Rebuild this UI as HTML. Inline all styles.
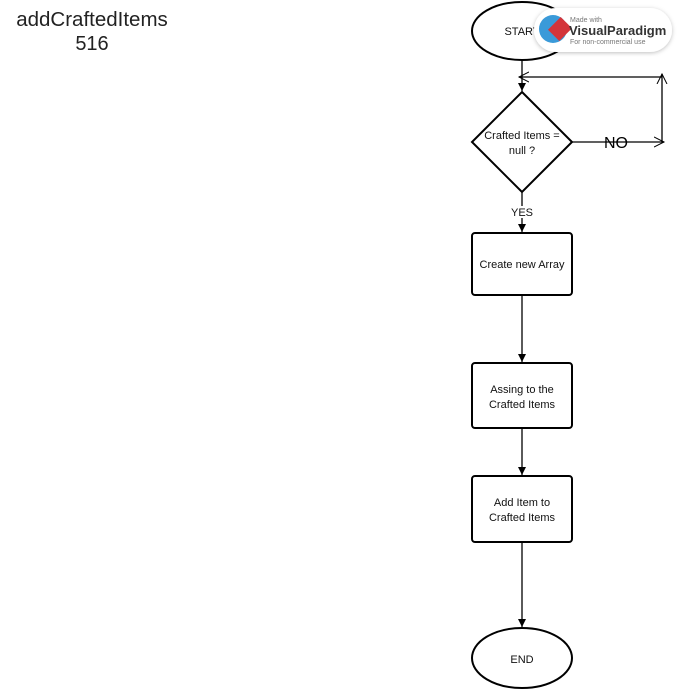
<!DOCTYPE html>
<html><head><style>body{margin:0;background:#fff}svg{display:block}</style></head><body>
<svg width="677" height="691" xmlns="http://www.w3.org/2000/svg" font-family="Liberation Sans, sans-serif">
<defs>
<marker id="a" markerWidth="10" markerHeight="10" refX="8" refY="5" orient="auto" markerUnits="userSpaceOnUse"><path d="M0,1 L8,5 L0,9 z" fill="#000"/></marker>
<marker id="o" markerWidth="12" markerHeight="12" refX="10" refY="6" orient="auto" markerUnits="userSpaceOnUse"><path d="M0,1 L10,6 L0,11" fill="none" stroke="#000"/></marker>
<filter id="sh"><feDropShadow dx="0" dy="1" stdDeviation="2" flood-opacity="0.25"/></filter>
</defs>
<text x="92" y="26" font-size="20.5" text-anchor="middle" fill="#222">addCraftedItems</text>
<text x="92" y="50" font-size="20" text-anchor="middle" fill="#222">516</text>
<g stroke="#000" fill="none" stroke-width="1.3">
<ellipse cx="522" cy="31" rx="50" ry="29" stroke-width="2"/>
<line x1="522" y1="60" x2="522" y2="91" marker-end="url(#a)"/>
<polygon points="522,92 572,142 522,192 472,142" stroke-width="2" fill="#fff"/>
<line x1="572" y1="142" x2="664" y2="142" marker-end="url(#o)"/>
<line x1="662" y1="142" x2="662" y2="74" marker-end="url(#o)"/>
<line x1="662" y1="77" x2="519" y2="77" marker-end="url(#o)"/>
<line x1="522" y1="192" x2="522" y2="232" marker-end="url(#a)"/>
<rect x="472" y="233" width="100" height="62" rx="3" stroke-width="2"/>
<line x1="522" y1="295" x2="522" y2="362" marker-end="url(#a)"/>
<rect x="472" y="363" width="100" height="65" rx="3" stroke-width="2"/>
<line x1="522" y1="428" x2="522" y2="475" marker-end="url(#a)"/>
<rect x="472" y="476" width="100" height="66" rx="3" stroke-width="2"/>
<line x1="522" y1="542" x2="522" y2="627" marker-end="url(#a)"/>
<ellipse cx="522" cy="658" rx="50" ry="30" stroke-width="2"/>
</g>
<g font-size="11" text-anchor="middle" fill="#111">
<text x="522" y="35">START</text>
<text x="522" y="139">Crafted Items =</text>
<text x="522" y="154">null ?</text>
<rect x="510" y="206" width="25" height="12" fill="#fff"/>
<text x="522" y="216">YES</text>
<text x="522" y="268">Create new Array</text>
<text x="522" y="393">Assing to the</text>
<text x="522" y="408">Crafted Items</text>
<text x="522" y="506">Add Item to</text>
<text x="522" y="521">Crafted Items</text>
<text x="522" y="663">END</text>
</g>
<text x="616" y="148" font-size="16" text-anchor="middle">NO</text>
<rect x="534" y="8" width="138" height="44" rx="22" fill="#fff" filter="url(#sh)"/>
<circle cx="553" cy="29" r="14" fill="#3a9ad9"/>
<rect x="552" y="20" width="16" height="18" fill="#d4343a" transform="rotate(45 560 29)"/>
<text x="570" y="22" font-size="7" fill="#777">Made with</text>
<text x="569" y="35" font-size="13" font-weight="bold" fill="#333">VisualParadigm</text>
<text x="570" y="44" font-size="7" fill="#777">For non-commercial use</text>
</svg>
</body></html>
